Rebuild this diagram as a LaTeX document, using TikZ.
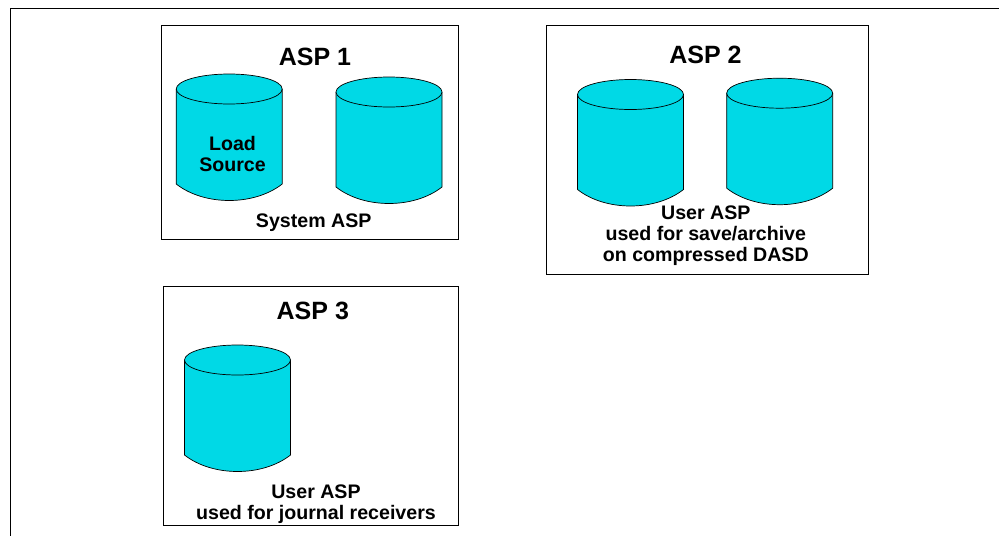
\documentclass[tikz,border=0pt]{standalone}
\usepackage{fontspec}
\setmainfont{Liberation Sans}
\usetikzlibrary{positioning}
\definecolor{diskcyan}{HTML}{00D9E6}
\tikzset{
    aspbox/.style={draw, line width=0.8pt, anchor=north west, inner sep=0pt, outer sep=0pt},
    disk/.pic={
        \path[draw, fill=diskcyan, line width=0.7pt] (-53,0) -- (-53,95) .. controls (-25,117) and (25,117) .. (53,95) -- (53,0);
        \path[draw, fill=diskcyan, line width=0.7pt] (0,0) ellipse [x radius=53, y radius=15];
    },
    asptitle/.style={font=\fontsize{25}{30}\selectfont\bfseries},
    asplabel/.style={align=center, font=\fontsize{19.6}{21}\selectfont\bfseries}
}
\begin{document}
\begin{tikzpicture}[x=1pt, y=-1pt]
    \useasboundingbox (0,0) rectangle (999,536);

    % Frame
    \coordinate (frametl) at (10,8);
    \coordinate (frametr) at (999,8);
    \coordinate (framebl) at (10,536);
    \draw[line width=0.8pt] (frametr) -- (frametl) -- (framebl);

    % ASP 1
    \node[aspbox, minimum width=297.5pt, minimum height=213.7pt] (box1) at (161,25.3) {};
    \node[asptitle] (title1) at (315,56.7) {ASP 1};
    \pic (disk1a) at (229.2,89) {disk};
    \pic (disk1b) at (389,92) {disk};
    \node[asplabel] (load) at (232.5,153.5) {Load\\Source};
    \node[asplabel] (label1) at (313.7,223) {System ASP};

    % ASP 2
    \node[aspbox, minimum width=322.3pt, minimum height=248.7pt] (box2) at (546,25.3) {};
    \node[asptitle] (title2) at (705.5,55.3) {ASP 2};
    \pic (disk2a) at (630.5,94.5) {disk};
    \pic (disk2b) at (779.7,93.2) {disk};
    \node[asplabel] (label2) at (705.8,235.5) {User ASP\\used for save/archive\\on compressed DASD};

    % ASP 3
    \node[aspbox, minimum width=294.6pt, minimum height=239pt] (box3) at (163.7,286) {};
    \node[asptitle] (title3) at (312.8,311) {ASP 3};
    \pic (disk3) at (237.5,360) {disk};
    \node[asplabel] (label3) at (316,504) {User ASP\\used for journal receivers};

\end{tikzpicture}
\end{document}
